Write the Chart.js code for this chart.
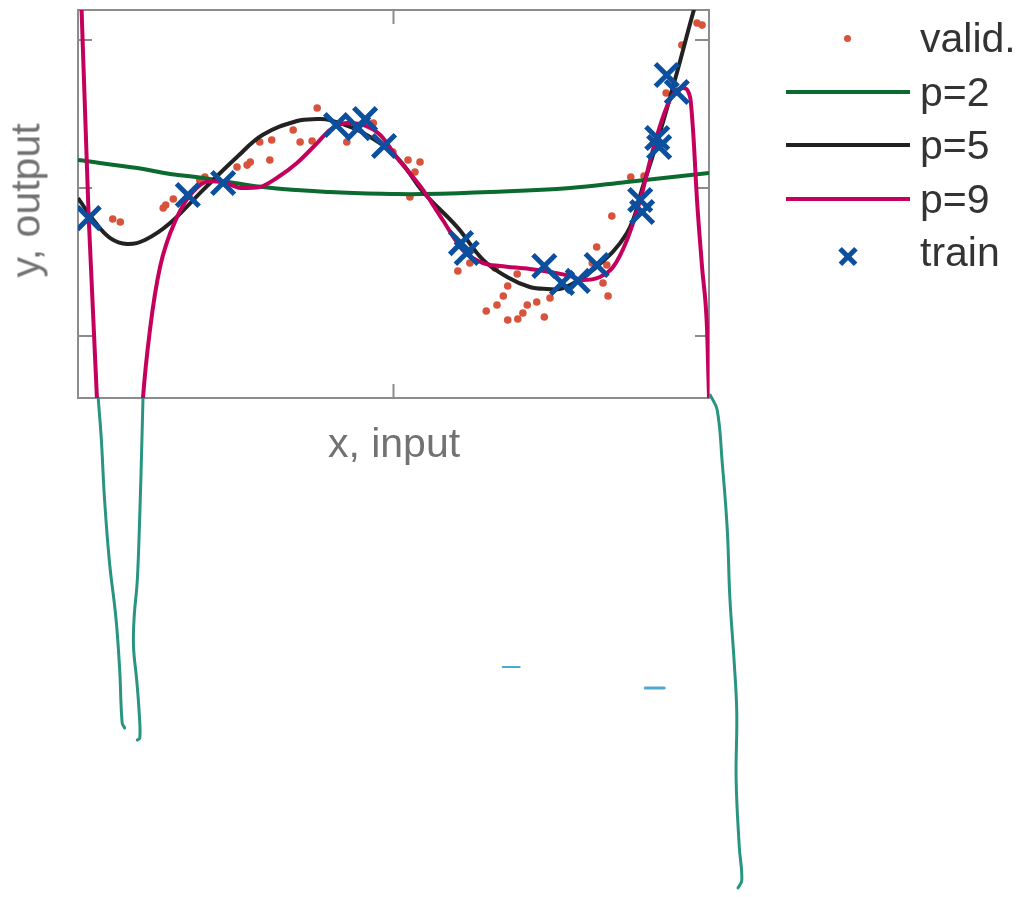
<!DOCTYPE html>
<html lang="en">
<head>
<meta charset="UTF-8">
<meta name="viewport" content="width=device-width, initial-scale=1.0">
<title>Polynomial fits</title>
<script src="https://cdn.jsdelivr.net/npm/chart.js"></script>
<style>
  body { margin: 0; background: #fff; font-family: "Liberation Sans", Arial, Helvetica, sans-serif; }
  #wrap { position: relative; width: 1034px; height: 897px; }
  .lbl { position: absolute; font-size: 41px; line-height: 41px; white-space: nowrap; }
  .axis { color: #727272; }
  .leg { color: #333; left: 920px; }
  .mark { position: absolute; }
  #xlabel { left: 394px; top: 423px; transform: translateX(-50%); }
  #ylabel { left: -74px; top: 180px; width: 200px; text-align: center; transform: rotate(-90deg); }
</style>
</head>
<body>
<div id="wrap">
  <canvas id="fitChart"></canvas>
  <div class="lbl axis" id="xlabel">x, input</div>
  <div class="lbl axis" id="ylabel">y, output</div>
  <div id="legend"></div>
</div>

<script>
// axis ticks (no labels on the figure)
const xTicks = [0.5];
const yTicks = [-1, 0, 1];

// validation points
const validX = [0.055, 0.067, 0.135, 0.139, 0.151, 0.193, 0.201, 0.252, 0.268, 0.273, 0.288, 0.304, 0.307,
  0.341, 0.352, 0.371, 0.379, 0.426, 0.468, 0.499, 0.523, 0.534, 0.542, 0.526, 0.602, 0.621, 0.647, 0.661,
  0.664, 0.674, 0.681, 0.681, 0.696, 0.697, 0.705, 0.712, 0.727, 0.739, 0.748, 0.815, 0.822, 0.832, 0.838,
  0.840, 0.846, 0.876, 0.897, 0.932, 0.957, 0.981, 0.989];
const validY = [-0.209, -0.230, -0.135, -0.115, -0.074, 0.054, 0.074, 0.142, 0.155, 0.176, 0.311, 0.189, 0.324,
  0.392, 0.311, 0.318, 0.541, 0.311, 0.439, 0.243, 0.189, 0.108, 0.176, -0.061, -0.561, -0.507, -0.831, -0.541,
  -0.791, -0.730, -0.662, -0.892, -0.581, -0.885, -0.845, -0.791, -0.770, -0.872, -0.743, -0.507, -0.399, -0.642, -0.520,
  -0.730, -0.189, 0.074, 0.081, 0.642, 0.966, 1.115, 1.101];

// training points
const trainX = [0.017, 0.174, 0.230, 0.409, 0.444, 0.455, 0.485, 0.607, 0.616, 0.739, 0.767, 0.792, 0.822,
  0.891, 0.894, 0.918, 0.921, 0.933, 0.949];
const trainY = [-0.203, -0.047, 0.034, 0.426, 0.405, 0.466, 0.284, -0.372, -0.439, -0.527, -0.642, -0.628, -0.520,
  -0.081, -0.162, 0.338, 0.277, 0.764, 0.649];

// fitted polynomials
const p2X = [0, 0.094, 0.146, 0.198, 0.293, 0.399, 0.506, 0.547, 0.653, 0.780, 0.870, 1.0];
const p2Y = [0.189, 0.135, 0.095, 0.068, 0.007, -0.027, -0.041, -0.041, -0.027, 0, 0.041, 0.101];

const p5X = [0, 0.027, 0.051, 0.078, 0.106, 0.146, 0.198, 0.252, 0.293, 0.347, 0.379, 0.399, 0.452, 0.506,
  0.547, 0.601, 0.642, 0.680, 0.716, 0.743, 0.769, 0.816, 0.870, 0.895, 0.922, 0.949, 0.976, 0.986];
const p5Y = [-0.068, -0.230, -0.338, -0.378, -0.351, -0.236, -0.014, 0.209, 0.360, 0.453, 0.466, 0.459, 0.372, 0.203,
  -0.027, -0.264, -0.486, -0.601, -0.669, -0.682, -0.676, -0.554, -0.304, 0.007, 0.372, 0.777, 1.203, 1.338];

const p9X = [0.003, 0.017, 0.030, 0.067, 0.103, 0.114, 0.130, 0.157, 0.182, 0.209, 0.233, 0.260, 0.288, 0.315,
  0.347, 0.379, 0.399, 0.426, 0.452, 0.479, 0.506, 0.547, 0.578, 0.610, 0.642, 0.669, 0.716, 0.748, 0.780,
  0.800, 0.827, 0.848, 0.870, 0.891, 0.911, 0.933, 0.946, 0.959, 0.970, 0.975, 0.981, 0.989, 0.997, 1.0, 1.002];
const p9Y = [1.554, -0.203, -1.419, -4.0, -1.419, -0.959, -0.534, -0.196, -0.027, 0.047, 0.034, 0, 0.007, 0.068,
  0.169, 0.304, 0.392, 0.439, 0.426, 0.358, 0.203, -0.014, -0.216, -0.419, -0.507, -0.527, -0.547, -0.568, -0.595,
  -0.622, -0.601, -0.534, -0.351, -0.081, 0.257, 0.547, 0.649, 0.676, 0.615, 0.372, -0.081, -0.534, -0.959, -1.419, -1.568];

// pen strokes drawn by hand below the frame
const penAX = [0.032, 0.037, 0.042, 0.050, 0.060, 0.066, 0.070, 0.074];
const penAY = [-1.419, -1.700, -2.100, -2.534, -2.900, -3.250, -3.615, -3.649];
const penBX = [0.103, 0.101, 0.098, 0.094, 0.089, 0.088, 0.093, 0.097, 0.098, 0.094];
const penBY = [-1.419, -1.750, -2.196, -2.649, -2.900, -3.101, -3.324, -3.547, -3.716, -3.730];
const penCX = [1.002, 1.013, 1.021, 1.029, 1.033, 1.040, 1.044, 1.043, 1.048, 1.052, 1.046];
const penCY = [-1.399, -1.5, -1.858, -2.311, -2.764, -3.209, -3.547, -4.0, -4.453, -4.676, -4.730];

// two stray blue marks on the sheet
const dashAX = [0.673, 0.700], dashAY = [-3.236, -3.236];
const dashBX = [0.899, 0.929], dashBY = [-3.378, -3.378];

const yMin = -1.419, yMax = 1.203;

const colValid = '#d9533c';
const colP2 = '#0b6a2f';
const colP5 = '#222222';
const colP9 = '#c5005c';
const colTrain = '#0b4f9e';
const colPen = '#2a9482';
const colDash = '#4ea8cf';

const pts = (xs, ys) => xs.map((x, i) => ({ x: x, y: ys[i] }));

function curve(label, xs, ys, color, order, mode) {
  return {
    label: label, data: pts(xs, ys), showLine: true, borderColor: color, borderWidth: 4,
    pointRadius: 0, cubicInterpolationMode: mode, tension: 0.4, order: order
  };
}

function pen(xs, ys, color, width) {
  return {
    label: '', data: pts(xs, ys), showLine: true, borderColor: color, borderWidth: width,
    pointRadius: 0, tension: 0.4, clip: false, order: 6, borderCapStyle: 'round'
  };
}

const frame = {
  id: 'frame',
  beforeDatasetsDraw(chart) {
    const { ctx, chartArea: a, scales: { x, y } } = chart;
    ctx.save();
    ctx.strokeStyle = '#8c8c8c';
    ctx.lineWidth = 2;
    ctx.strokeRect(a.left, a.top, a.width, a.height);
    ctx.beginPath();
    xTicks.forEach(v => {
      const px = x.getPixelForValue(v);
      ctx.moveTo(px, a.top); ctx.lineTo(px, a.top + 14);
      ctx.moveTo(px, a.bottom); ctx.lineTo(px, a.bottom - 14);
    });
    yTicks.forEach(v => {
      const py = y.getPixelForValue(v);
      ctx.moveTo(a.left, py); ctx.lineTo(a.left + 14, py);
      ctx.moveTo(a.right, py); ctx.lineTo(a.right - 14, py);
    });
    ctx.stroke();
    ctx.restore();
  }
};

new Chart(document.getElementById('fitChart'), {
  type: 'scatter',
  data: {
    datasets: [
      { label: 'train', data: pts(trainX, trainY), pointStyle: 'crossRot', pointRadius: 16,
        pointBorderWidth: 5, borderColor: colTrain, backgroundColor: colTrain, order: 0 },
      curve('p=9', p9X, p9Y, colP9, 1, 'monotone'),
      curve('p=5', p5X, p5Y, colP5, 2, 'default'),
      curve('p=2', p2X, p2Y, colP2, 3, 'default'),
      { label: 'valid.', data: pts(validX, validY), pointRadius: 3.8, pointBorderWidth: 0,
        backgroundColor: colValid, borderColor: colValid, order: 5 },
      pen(penAX, penAY, colPen, 3),
      pen(penBX, penBY, colPen, 3),
      pen(penCX, penCY, colPen, 3),
      pen(dashAX, dashAY, colDash, 2),
      pen(dashBX, dashBY, colDash, 3)
    ]
  },
  options: {
    responsive: true,
    maintainAspectRatio: false,
    animation: false,
    layout: { autoPadding: false, padding: { left: 78, top: 10, right: 325, bottom: 499 } },
    scales: {
      x: { type: 'linear', min: 0, max: 1, display: false },
      y: { type: 'linear', min: yMin, max: yMax, display: false }
    },
    plugins: { legend: { display: false }, tooltip: { enabled: false } }
  },
  plugins: [frame]
});

// legend on the right
const legendItems = [
  { text: 'valid.', kind: 'dot', color: colValid },
  { text: 'p=2', kind: 'line', color: colP2 },
  { text: 'p=5', kind: 'line', color: colP5 },
  { text: 'p=9', kind: 'line', color: colP9 },
  { text: 'train', kind: 'cross', color: colTrain }
];
const legend = document.getElementById('legend');
legendItems.forEach((item, i) => {
  const base = 53 + i * 53.5;
  const label = document.createElement('div');
  label.className = 'lbl leg';
  label.style.top = (base - 35) + 'px';
  label.textContent = item.text;
  legend.appendChild(label);

  const midY = base - 15;
  if (item.kind === 'line') {
    const m = document.createElement('div');
    m.className = 'mark';
    Object.assign(m.style, { left: '786px', width: '124px', top: (midY - 2) + 'px', height: '4px', background: item.color });
    legend.appendChild(m);
  } else if (item.kind === 'dot') {
    const m = document.createElement('div');
    m.className = 'mark';
    Object.assign(m.style, { left: '844px', top: (midY - 3.5) + 'px', width: '7px', height: '7px', borderRadius: '50%', background: item.color });
    legend.appendChild(m);
  } else {
    [45, -45].forEach(deg => {
      const m = document.createElement('div');
      m.className = 'mark';
      Object.assign(m.style, { left: '837px', top: (midY + 2) + 'px', width: '22px', height: '4.5px',
        background: item.color, transform: 'rotate(' + deg + 'deg)' });
      legend.appendChild(m);
    });
  }
});
</script>
</body>
</html>
